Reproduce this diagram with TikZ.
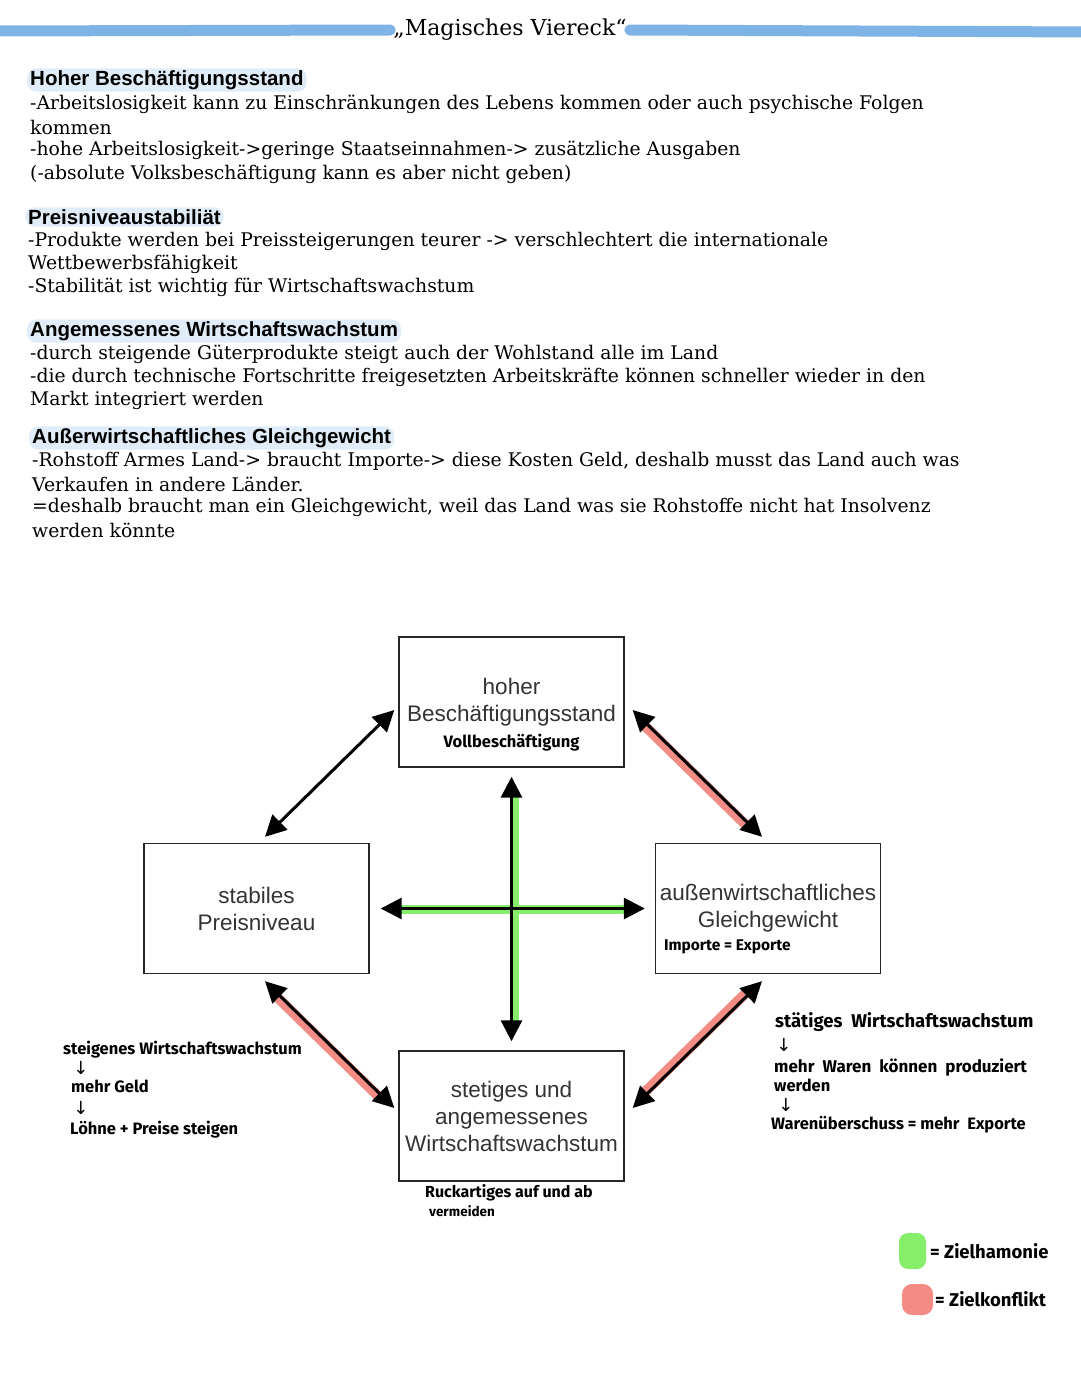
\documentclass[tikz,border=0pt]{standalone}
\usepackage{fontspec}
\setmainfont{DejaVu Serif}
\setsansfont{Liberation Sans}
\newfontfamily\handfont{Fira Sans}
\newfontfamily\symfont{DejaVu Sans}
\usepackage{tikz}
\usetikzlibrary{arrows.meta, calc}
\definecolor{barblue}{HTML}{7EB3E6}
\definecolor{hlblue}{HTML}{E0EDF9}
\definecolor{harmony}{HTML}{86EE6A}
\definecolor{conflict}{HTML}{F28C85}

\begin{document}
\begin{tikzpicture}[x=1pt, y=-1pt,
    bar/.style={barblue, line width=11pt, line cap=round},
    heading/.style={anchor=west, font=\sffamily\bfseries\fontsize{20.5}{24}\selectfont, fill=hlblue, rounded corners=9pt, inner xsep=3pt, inner ysep=2pt},
    bodyline/.style={anchor=west, font=\fontsize{18.8}{22}\selectfont, inner sep=0pt},
    goal/.style={draw=black!85, line width=1.4pt, minimum width=225pt, minimum height=130pt, font=\sffamily\fontsize{22.5}{27}\selectfont, align=center, text=black!80},
    hand/.style={font=\handfont\bfseries\fontsize{16.5}{18}\selectfont, inner sep=0pt},
    down/.style={font=\symfont\fontsize{18}{18}\selectfont, inner sep=0pt},
    link/.style={line width=3pt, {Triangle[length=21pt,width=21pt]}-{Triangle[length=21pt,width=21pt]}},
    greenband/.style={harmony, line width=9pt},
    redband/.style={conflict, line width=10pt, shorten <=21pt, shorten >=21pt}
]
    \useasboundingbox (0,0) rectangle (1080,1397);

    % Titel
    \node[font=\fontsize{22}{26}\selectfont, inner sep=3pt] (title) at (510,30) {„Magisches Viereck“};
    \draw[bar] (-10,31) -- (title.west);
    \draw[bar] (title.east) -- (1090,32);

    % Hoher Beschaeftigungsstand
    \node[heading] (head1) at (27,80) {Hoher Beschäftigungsstand};
    \foreach \ty/\txt in {104/{-Arbeitslosigkeit kann zu Einschränkungen des Lebens kommen oder auch psychische Folgen},
        127/{kommen},
        150/{-hohe Arbeitslosigkeit->geringe Staatseinnahmen-> zusätzliche Ausgaben},
        174/{(-absolute Volksbeschäftigung kann es aber nicht geben)}} {
        \node[bodyline] (sa\ty) at (30,\ty) {\txt};
    }

    % Preisniveaustabilitaet
    \node[heading] (head2) at (25,217) {Preisniveaustabiliät};
    \foreach \ty/\txt in {241/{-Produkte werden bei Preissteigerungen teurer -> verschlechtert die internationale},
        264/{Wettbewerbsfähigkeit},
        287/{-Stabilität ist wichtig für Wirtschaftswachstum}} {
        \node[bodyline] (sb\ty) at (28,\ty) {\txt};
    }

    % Angemessenes Wirtschaftswachstum
    \node[heading] (head3) at (27,331) {Angemessenes Wirtschaftswachstum};
    \foreach \ty/\txt in {354/{-durch steigende Güterprodukte steigt auch der Wohlstand alle im Land},
        377/{-die durch technische Fortschritte freigesetzten Arbeitskräfte können schneller wieder in den},
        400/{Markt integriert werden}} {
        \node[bodyline] (sc\ty) at (30,\ty) {\txt};
    }

    % Aussenwirtschaftliches Gleichgewicht
    \node[heading] (head4) at (29,438) {Außerwirtschaftliches Gleichgewicht};
    \foreach \ty/\txt in {461/{-Rohstoff Armes Land-> braucht Importe-> diese Kosten Geld, deshalb musst das Land auch was},
        484/{Verkaufen in andere Länder.},
        507/{=deshalb braucht man ein Gleichgewicht, weil das Land was sie Rohstoffe nicht hat Insolvenz},
        530/{werden könnte}} {
        \node[bodyline] (sd\ty) at (32,\ty) {\txt};
    }

    % Viereck
    \node[goal] (top) at (511.5,702) {hoher\\Beschäftigungsstand};
    \node[goal] (left) at (256.5,908.5) {stabiles\\Preisniveau};
    \node[goal] (right) at (768,908.5) {außenwirtschaftliches\\Gleichgewicht};
    \node[goal] (bottom) at (511.5,1116) {stetiges und\\angemessenes\\Wirtschaftswachstum};

    \node[hand, font=\handfont\bfseries\fontsize{16.5}{18}\selectfont] (topnote) at ($(top.center)+(0,41)$) {Vollbeschäftigung};
    \node[hand, anchor=west, font=\handfont\bfseries\fontsize{15.5}{18}\selectfont] (rightnote) at ($(right.west)+(9,38)$) {Importe = Exporte};

    % Zielharmonie
    \draw[greenband] ($(top.south)+(3,28)$) -- ($(bottom.north)+(3,-28)$);
    \draw[greenband] ($(left.east)+(30,1)$) -- ($(right.west)+(-30,1)$);
    \draw[link] ([shift={(0,9)}]top.south) -- ([shift={(0,-9)}]bottom.north);
    \draw[link] ([shift={(11,0)}]left.east) -- ([shift={(-10,0)}]right.west);

    % Zielkonflikt
    \draw[redband] ([shift={(6,10)}]top.east) -- ([shift={(-8,-4)}]right.north);
    \draw[redband] ([shift={(6.5,9)}]left.south) -- ([shift={(-6,-6)}]bottom.west);
    \draw[redband] ([shift={(6,-10)}]bottom.east) -- ([shift={(-8,5)}]right.south);
    \draw[link] ([shift={(8.5,-6)}]left.north) -- ([shift={(-4,8)}]top.west);
    \draw[link] ([shift={(8,8)}]top.east) -- ([shift={(-6,-6)}]right.north);
    \draw[link] ([shift={(8.5,7)}]left.south) -- ([shift={(-4,-8)}]bottom.west);
    \draw[link] ([shift={(8,-8)}]bottom.east) -- ([shift={(-6,7)}]right.south);

    % Notizen links
    \node[hand, anchor=west] (la) at (63,1050) {steigenes Wirtschaftswachstum};
    \node[down] (lb) at (81,1068) {↓};
    \node[hand, anchor=west] (lc) at (71,1086) {mehr Geld};
    \node[down] (ld) at (81,1108) {↓};
    \node[hand, anchor=west] (le) at (70,1130) {Löhne + Preise steigen};

    % Notizen rechts
    \node[hand, anchor=west, font=\handfont\bfseries\fontsize{18.5}{18}\selectfont] (ra) at (775,1022) {stätiges \ Wirtschaftswachstum};
    \node[down] (rb) at (784,1045) {↓};
    \node[hand, anchor=west, font=\handfont\bfseries\fontsize{17}{18}\selectfont] (rc) at (774,1067) {mehr \ Waren \ können \ produziert};
    \node[hand, anchor=west] (rd) at (774,1085) {werden};
    \node[down] (re) at (786,1105) {↓};
    \node[hand, anchor=west, font=\handfont\bfseries\fontsize{16.5}{18}\selectfont] (rf) at (771,1125) {Warenüberschuss = mehr \ Exporte};

    % Notiz unten
    \node[hand, anchor=west, font=\handfont\bfseries\fontsize{16}{18}\selectfont] (ba) at (425,1193) {Ruckartiges auf und ab};
    \node[hand, anchor=west, font=\handfont\bfseries\fontsize{13.5}{16}\selectfont] (bb) at (429,1211) {vermeiden};

    % Legende
    \fill[harmony, rounded corners=9pt] (899,1233) rectangle (926,1269);
    \fill[conflict, rounded corners=10pt] (902,1284) rectangle (933,1315);
    \node[hand, anchor=west, font=\handfont\bfseries\fontsize{18.5}{20}\selectfont] (leg1) at (930,1251) {= Zielhamonie};
    \node[hand, anchor=west, font=\handfont\bfseries\fontsize{18.5}{20}\selectfont] (leg2) at (935,1299) {= Zielkonflikt};
\end{tikzpicture}
\end{document}
